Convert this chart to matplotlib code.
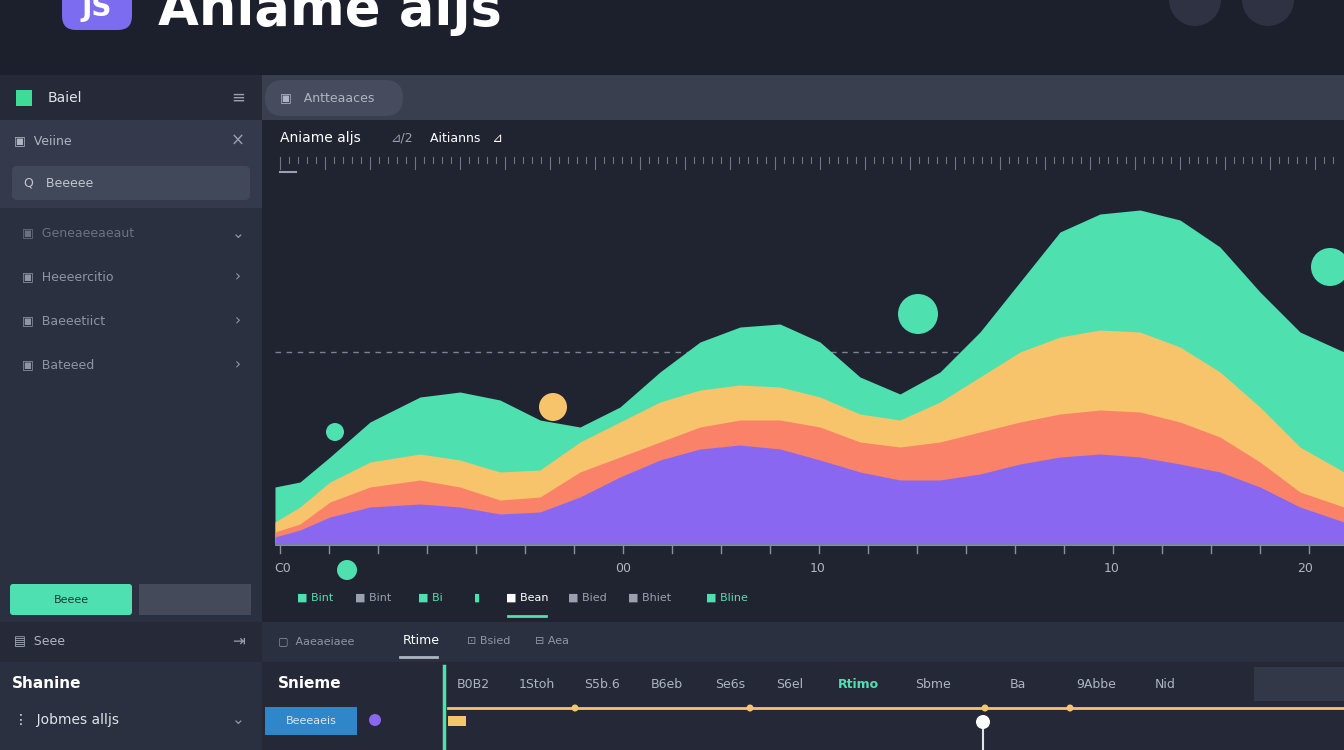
import matplotlib
matplotlib.use("Agg")
import matplotlib.pyplot as plt
from matplotlib.patches import Rectangle, Circle, FancyBboxPatch

# ---- data (pixel-read heights above baseline) ----
xs = [275, 300, 330, 370, 420, 460, 500, 540, 580, 620, 660, 700, 740, 780, 820, 860, 900, 940,
      980, 1020, 1060, 1100, 1140, 1180, 1220, 1260, 1300, 1344]
green = [58, 63, 88, 123, 148, 153, 145, 125, 118, 138, 173, 203, 218, 221, 203, 168, 151, 173,
         213, 263, 313, 331, 335, 325, 298, 253, 213, 193]
yellow = [23, 38, 63, 83, 91, 85, 73, 75, 103, 123, 143, 155, 160, 158, 148, 131, 125, 143,
          168, 193, 208, 215, 213, 198, 173, 138, 98, 73]
coral = [13, 21, 43, 58, 65, 58, 45, 48, 73, 88, 103, 118, 125, 125, 118, 103, 98, 103,
         113, 123, 131, 135, 133, 123, 108, 83, 53, 38]
purple = [8, 15, 28, 38, 41, 38, 31, 33, 48, 68, 85, 96, 100, 96, 85, 73, 65, 65,
          71, 81, 88, 91, 88, 81, 73, 58, 38, 23]
sidebar_items = ["Geneaeeaeaut", "Heeeercitio", "Baeeetiict", "Bateeed"]
tabs = ["Bint", "Bint", "Bi", "", "Bean", "Bied", "Bhiet", "Bline"]
timeline_labels = ["B0B2", "1Stoh", "S5b.6", "B6eb", "Se6s", "S6el", "Rtimo", "Sbme", "Ba", "9Abbe", "Nid"]
bottom_ticks = ["C0", "00", "10", "10", "20"]

fig = plt.figure(figsize=(13.44, 7.5), dpi=100)
fig.patch.set_facecolor("#1f2230")
ui = fig.add_axes([0, 0, 1, 1])
ui.set_xlim(0, 1344); ui.set_ylim(750, 0); ui.axis("off")

def rect(x, y, w, h, c, z=1, **kw):
    ui.add_patch(Rectangle((x, y), w, h, facecolor=c, edgecolor="none", zorder=z, **kw))

# top bar
rect(0, 0, 1344, 75, "#1c1f2c")
ui.add_patch(FancyBboxPatch((62, -30), 70, 60, boxstyle="round,pad=0,rounding_size=14",
                            facecolor="#7b6cf0", edgecolor="none", zorder=2))
ui.text(97, 8, "JS", color="white", fontsize=20, fontweight="bold", ha="center", va="center", zorder=3)
ui.text(158, 10, "Aniame aljs", color="white", fontsize=38, fontweight="bold", va="center", zorder=3)
for cx in (1195, 1268):
    ui.add_patch(Circle((cx, 0), 26, facecolor="#2e3242", zorder=2))
# sidebar
rect(0, 75, 262, 675, "#2b3040")
rect(0, 75, 262, 45, "#262a38")
rect(16, 90, 16, 16, "#3ddc97", z=2)
ui.text(48, 98, "Baiel", color="#dfe3ea", fontsize=10, va="center")
ui.text(238, 98, "≡", color="#9aa0ad", fontsize=12, va="center", ha="center")
rect(0, 120, 262, 88, "#343a4b")
ui.text(14, 141, "▣  Veiine", color="#aeb4c0", fontsize=9, va="center")
ui.text(238, 141, "×", color="#9aa0ad", fontsize=12, va="center", ha="center")
ui.add_patch(FancyBboxPatch((12, 166), 238, 34, boxstyle="round,pad=0,rounding_size=5",
                            facecolor="#414859", edgecolor="none", zorder=2))
ui.text(24, 183, "Q   Beeeee", color="#c0c5cf", fontsize=9, va="center", zorder=3)
for i, s in enumerate(sidebar_items):
    y = 233 + 44 * i
    ui.text(22, y, "▣  " + s, color="#8f95a3" if i else "#6b7180", fontsize=9, va="center")
    ui.text(238, y, "›" if i else "⌄", color="#8f95a3", fontsize=11, va="center", ha="center")
ui.add_patch(FancyBboxPatch((10, 584), 122, 31, boxstyle="round,pad=0,rounding_size=3",
                            facecolor="#4ee0b0", edgecolor="none", zorder=2))
ui.text(71, 600, "Beeee", color="#1d3b33", fontsize=8, va="center", ha="center", zorder=3)
rect(139, 584, 112, 31, "#444a5a", z=2)
rect(0, 622, 262, 40, "#262a38")
ui.text(14, 641, "▤  Seee", color="#aeb4c0", fontsize=9, va="center")
ui.text(238, 641, "⇥", color="#9aa0ad", fontsize=11, va="center", ha="center")
ui.text(12, 684, "Shanine", color="white", fontsize=11, fontweight="bold", va="center")
ui.text(14, 720, "⋮  Jobmes alljs", color="#dfe3ea", fontsize=10, va="center")
ui.text(238, 720, "⌄", color="#8f95a3", fontsize=11, va="center", ha="center")
# main header
rect(262, 75, 1082, 45, "#3a3f4f")
ui.add_patch(FancyBboxPatch((265, 80), 138, 36, boxstyle="round,pad=0,rounding_size=18",
                            facecolor="#464c5d", edgecolor="none", zorder=2))
ui.text(280, 98, "▣   Antteaaces", color="#aeb4c0", fontsize=9, va="center", zorder=3)
rect(262, 120, 1082, 502, "#202431")
ui.text(280, 138, "Aniame aljs", color="white", fontsize=10, va="center")
ui.text(390, 138, "⊿/2", color="#9aa0ad", fontsize=9, va="center")
ui.text(430, 138, "Aitianns   ⊿", color="white", fontsize=9, va="center")
for i, x in enumerate(range(280, 1340, 9)):
    h = 12 if i % 5 == 0 else 6
    ui.plot([x, x], [157, 157 + h], color="#6f7585", lw=0.8)
ui.plot([280, 296], [172, 172], color="#9aa0ad", lw=1.5)

# chart axes
ax = fig.add_axes([275 / 1344, 1 - 545 / 750, 1069 / 1344, 415 / 750])
ax.set_xlim(275, 1344); ax.set_ylim(0, 415)
ax.set_facecolor("#202431"); ax.axis("off")
ax.axhline(193, color="#7c8292", lw=1, ls=(0, (4, 4)), zorder=1)
for arr, c in [(green, "#4fe0b0"), (yellow, "#f7c46c"), (coral, "#f98269"), (purple, "#8a67f0")]:
    ax.fill_between(xs, 0, arr, color=c, lw=0, zorder=2)
ax.axhline(1, color="#7b8094", lw=1.5, zorder=3)

# bubbles
ui.add_patch(Circle((918, 314), 20, facecolor="#4fe0b0", zorder=4))
ui.add_patch(Circle((1330, 267), 19, facecolor="#4fe0b0", zorder=4))
ui.add_patch(Circle((553, 407), 14, facecolor="#f7c46c", zorder=4))
ui.add_patch(Circle((335, 432), 9, facecolor="#4fe0b0", zorder=4))
ui.add_patch(Circle((347, 570), 10, facecolor="#4fe0b0", zorder=4))

# bottom ticks
for x in range(280, 1340, 49):
    ui.plot([x, x], [546, 553], color="#8a90a0", lw=1)
for x, t in zip([283, 623, 818, 1112, 1305], bottom_ticks):
    ui.text(x, 569, t, color="#aeb4c0", fontsize=9, ha="center", va="center")
tx = [277, 315, 373, 430, 477, 527, 587, 650, 727]
tcols = ["#4fe0b0", "#4fe0b0", "#9aa0ad", "#4fe0b0", "#4fe0b0", "#dfe3ea", "#9aa0ad", "#9aa0ad", "#4fe0b0"]
for x, t, c in zip(tx[1:], tabs, tcols[1:]):
    ui.text(x, 598, ("■ " if t else "▮") + t, color=c if t != "Bean" else "white", fontsize=8, ha="center", va="center")
ui.plot([508, 546], [616, 616], color="#4fe0b0", lw=2)

# lower panel
rect(262, 622, 1082, 40, "#2b3040")
ui.text(278, 641, "▢  Aaeaeiaee", color="#8f95a3", fontsize=8, va="center")
ui.text(403, 641, "Rtime", color="white", fontsize=9, va="center")
ui.plot([400, 437], [657, 657], color="#aeb4c0", lw=2)
ui.text(467, 641, "⊡ Bsied", color="#8f95a3", fontsize=8, va="center")
ui.text(535, 641, "⊟ Aea", color="#8f95a3", fontsize=8, va="center")
rect(262, 662, 1082, 88, "#252937")
ui.text(278, 684, "Snieme", color="white", fontsize=11, fontweight="bold", va="center")
rect(265, 707, 92, 28, "#2f86c8", z=2)
ui.text(311, 721, "Beeeaeis", color="#dfe3ea", fontsize=8, ha="center", va="center", zorder=3)
ui.add_patch(Circle((375, 720), 6, facecolor="#8a67f0", zorder=3))
ui.plot([444, 444], [666, 750], color="#4fe0b0", lw=2.5)
for x, t in zip([473, 537, 602, 667, 730, 790, 858, 933, 1018, 1096, 1165], timeline_labels):
    ui.text(x, 685, t, color="#4fe0b0" if t == "Rtimo" else "#aeb4c0",
            fontsize=9, fontweight="bold" if t == "Rtimo" else "normal", ha="center", va="center")
rect(1254, 667, 90, 34, "#333849", z=2)
ui.plot([448, 1344], [708, 708], color="#f7c46c", lw=2, zorder=3)
for x in [575, 750, 985, 1070]:
    ui.add_patch(Circle((x, 708), 3.5, facecolor="#f7c46c", zorder=4))
rect(448, 716, 18, 10, "#f7c46c", z=3)
ui.plot([983, 983], [722, 750], color="#dfe3ea", lw=1.5, zorder=4)
ui.add_patch(Circle((983, 722), 7, facecolor="white", zorder=5))

fig.savefig("out.png", dpi=100, facecolor=fig.get_facecolor())
